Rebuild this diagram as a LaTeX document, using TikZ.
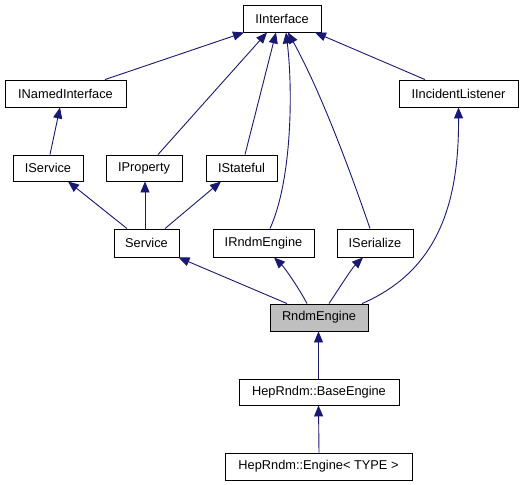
\documentclass[tikz,border=0pt]{standalone}
\usepackage{fontspec}
\setmainfont{Liberation Sans}
\usetikzlibrary{arrows.meta}
\definecolor{edgeblue}{RGB}{25,25,112}
\definecolor{focusgray}{RGB}{191,191,191}
\begin{document}
\begin{tikzpicture}[x=1pt,y=-1pt,
  cls/.style={draw=black, line width=0.9pt, fill=white, inner sep=0pt, minimum height=27pt,
    font=\fontsize{12.8}{14}\selectfont},
  inh/.style={draw=edgeblue, line width=0.9pt, -{Triangle[length=11pt,width=9pt]}}]
\useasboundingbox (0,0) rectangle (528,485);
\fill[white] (0,0) rectangle (528,485);
% nodes
\node[cls, minimum width=78pt] (ifc) at (282,18.5) {IInterface};
\node[cls, minimum width=121pt] (named) at (65.5,93.5) {INamedInterface};
\node[cls, minimum width=119pt] (incident) at (458.5,93.5) {IIncidentListener};
\node[cls, minimum width=70pt, minimum height=26pt] (iservice) at (48,168) {IService};
\node[cls, minimum width=76pt, minimum height=26pt] (iprop) at (144,168) {IProperty};
\node[cls, minimum width=71pt, minimum height=26pt] (istate) at (241.5,168) {IStateful};
\node[cls, minimum width=65pt, minimum height=28pt] (service) at (146.5,243) {Service};
\node[cls, minimum width=101pt, minimum height=28pt] (irndm) at (263.5,243) {IRndmEngine};
\node[cls, minimum width=76pt, minimum height=28pt] (iser) at (375,243) {ISerialize};
\node[cls, minimum width=98pt, fill=focusgray] (rndm) at (319,317.5) {RndmEngine};
\node[cls, minimum width=160pt, minimum height=26pt] (base) at (319,392) {HepRndm::BaseEngine};
\node[cls, minimum width=187pt] (engine) at (318.5,466.5) {HepRndm::Engine< TYPE >};
% edges to IInterface
\draw[inh] ([xshift=39.5pt]named.north) -- ([xshift=-38pt]ifc.south);
\draw[inh] ([xshift=14pt]iprop.north) -- ([xshift=-15pt]ifc.south);
\draw[inh] ([xshift=3.5pt]istate.north) -- ([xshift=-6pt]ifc.south);
\draw[inh] ([xshift=6.5pt]irndm.north) .. controls (292,180) and (293,90) .. ([xshift=4pt]ifc.south);
\draw[inh] ([xshift=-5pt]iser.north) .. controls (350,170) and (320,90) .. ([xshift=6pt]ifc.south);
\draw[inh] ([xshift=-33.5pt]incident.north) -- ([xshift=33pt]ifc.south);
% second level
\draw[inh] ([xshift=2pt]iservice.north) -- ([xshift=-5.5pt]named.south);
\draw[inh] ([xshift=-19.5pt]service.north) -- ([xshift=20pt]iservice.south);
\draw[inh] ([xshift=-1.5pt]service.north) -- ([xshift=1pt]iprop.south);
\draw[inh] ([xshift=18.5pt]service.north) -- ([xshift=-20.5pt]istate.south);
% RndmEngine parents
\draw[inh] ([xshift=-32pt]rndm.north) -- ([xshift=32pt]service.south);
\draw[inh] ([xshift=-12pt]rndm.north) .. controls (300,290) and (285,268) .. ([xshift=10.5pt]irndm.south);
\draw[inh] ([xshift=10pt]rndm.north) .. controls (338,290) and (352,268) .. ([xshift=-12pt]iser.south);
\draw[inh] ([xshift=43pt]rndm.north) .. controls (440,270) and (459,200) .. (incident.south);
% lower chain
\draw[inh] ([xshift=-0.5pt]base.north) -- ([xshift=-0.5pt]rndm.south);
\draw[inh] ([xshift=0.5pt]engine.north) -- ([xshift=-0.5pt]base.south);
\end{tikzpicture}
\end{document}
